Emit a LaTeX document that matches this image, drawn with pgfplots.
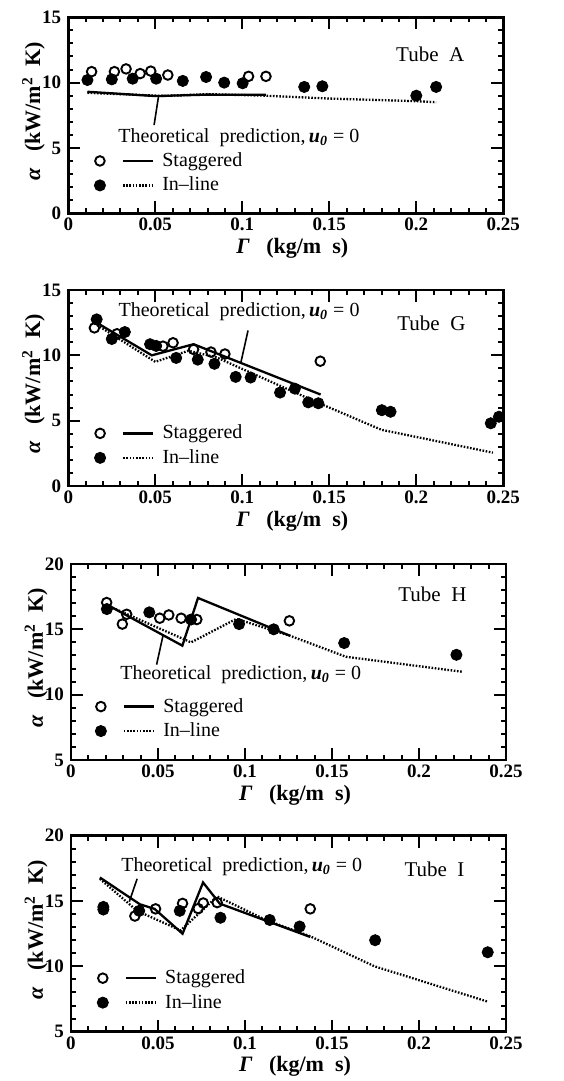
\documentclass[border=0pt]{standalone}
\usepackage{fontspec}
\setmainfont{Liberation Serif}
\usepackage{pgfplots}
\pgfplotsset{compat=1.18}

\pgfplotsset{
  tubepanel/.style={
    scale only axis,
    width=217.5pt, height=98pt,
    xmin=0, xmax=0.25,
    xtick={0,0.05,0.1,0.15,0.2,0.25},
    xticklabels={0,0.05,0.1,0.15,0.2,0.25},
    minor x tick num=4, minor y tick num=4,
    tick align=inside,
    major tick length=6pt, minor tick length=2.6pt,
    axis line style={line width=1.4pt},
    every tick/.style={black, line width=1pt},
    tick label style={font=\fontsize{9.5}{11}\selectfont\bfseries},
    xticklabel style={yshift=1pt},
    xlabel={\textbf{\textit{Γ}}\ \ \ \textbf{(kg/m\ \ s)}},
    ylabel={\textbf{\textit{α}}\ \ \ \textbf{(kW/m\textsuperscript{2}\ \ K)}},
    label style={font=\fontsize{11}{13}\selectfont},
    x label style={at={(axis description cs:0.515,-0.178)}, anchor=center},
    y label style={at={(axis description cs:-0.08,0.52)}, anchor=center},
    legend cell align=left,
    legend style={draw=none, fill=none, inner sep=0pt, anchor=west,
      font=\fontsize{10}{12}\selectfont, row sep=1.8pt,
      nodes={inner sep=1pt}},
    clip=false,
  },
  stag/.style={only marks, mark=o, mark size=2.4pt,
    mark options={line width=0.95pt, fill=white, draw=black}},
  inl/.style={only marks, mark=*, mark size=2.8pt,
    mark options={fill=black, draw=black}},
  solidth/.style={no marks, black, line width=1.15pt},
  dotth/.style={no marks, black, line width=1.15pt, dash pattern=on 0.8pt off 0.8pt},
  stagkey/.style={legend image code/.code={
      \draw[line width=1.15pt] (11.5pt,0pt) -- (26.5pt,0pt);
      \draw[line width=0.95pt, fill=white] (0pt,0pt) circle (2.4pt);
      \path (30pt,0pt);}},
  inlkey/.style={legend image code/.code={
      \draw[line width=1.15pt, dash pattern=on 0.8pt off 0.8pt] (11.5pt,0pt) -- (26.5pt,0pt);
      \fill (0pt,0pt) circle (2.8pt);
      \path (30pt,0pt);}},
}
\tikzset{
  theorynote/.style={anchor=west, inner sep=0pt, font=\fontsize{10}{12}\selectfont},
  tubename/.style={font=\fontsize{10.5}{12}\selectfont},
}

\newcommand{\theorytext}{Theoretical\ \ prediction,\,\textbf{\textit{u}\textsubscript{\textit{0}}}\ =\ 0}

\begin{document}
\begin{tikzpicture}
\useasboundingbox (0,0) rectangle (281.5pt,540.5pt);

% ---------------- Tube A ----------------
\begin{axis}[tubepanel, at={(34.15pt,433.85pt)}, anchor=south west,
  ymin=0, ymax=15, ytick={0,5,10,15}, yticklabels={0,5,10,15},
  legend style={at={(axis cs:0.0145,3.07)}}]
\addlegendimage{stagkey}\addlegendentry{Staggered}
\addlegendimage{inlkey}\addlegendentry{In--line}
\addplot[solidth] coordinates {(0.011,9.3) (0.050,8.97) (0.080,9.08) (0.1136,9.07)};
\addplot[dotth] coordinates {(0.011,9.22) (0.055,8.98) (0.080,9.12) (0.113,9.0) (0.150,8.78) (0.200,8.58) (0.2114,8.5)};
\addplot[inl] coordinates {(0.011,10.2) (0.025,10.25) (0.037,10.3) (0.0505,10.3) (0.0658,10.13) (0.0792,10.43) (0.0896,10.0) (0.1002,9.95) (0.1356,9.67) (0.1460,9.72) (0.2000,9.0) (0.2114,9.67)};
\addplot[stag] coordinates {(0.0134,10.84) (0.0265,10.84) (0.0332,11.05) (0.0413,10.69) (0.0474,10.88) (0.0572,10.58) (0.1036,10.48) (0.1136,10.48)};
\draw[line width=0.8pt] (axis cs:0.0518,8.9) -- (axis cs:0.0493,6.75);
\node[theorynote] at (axis cs:0.0286,5.82) {\theorytext};
\node[tubename] at (axis cs:0.208,12.2) {Tube\ \ A};
\end{axis}

% ---------------- Tube G ----------------
\begin{axis}[tubepanel, at={(34.15pt,297.5pt)}, anchor=south west,
  ymin=0, ymax=15, ytick={0,5,10,15}, yticklabels={0,5,10,15},
  legend style={at={(axis cs:0.0146,3.09)}}]
\addlegendimage{stagkey}\addlegendentry{Staggered}
\addlegendimage{inlkey}\addlegendentry{In--line}
\addplot[solidth] coordinates {(0.015,12.6) (0.048,10.0) (0.072,10.85) (0.145,7.0)};
\addplot[dotth] coordinates {(0.015,12.45) (0.050,9.5) (0.069,10.35) (0.085,9.85) (0.143,6.4) (0.180,4.3) (0.244,2.55)};
\addplot[inl] coordinates {(0.0163,12.75) (0.025,11.25) (0.0325,11.78) (0.047,10.85) (0.0505,10.72) (0.062,9.8) (0.0744,9.67) (0.084,9.35) (0.0962,8.35) (0.1048,8.3) (0.1217,7.15) (0.1302,7.45) (0.1379,6.4) (0.1437,6.33) (0.1802,5.8) (0.1852,5.68) (0.2428,4.8) (0.2475,5.3)};
\addplot[stag] coordinates {(0.015,12.1) (0.028,11.65) (0.0544,10.7) (0.0602,10.96) (0.072,10.45) (0.082,10.25) (0.090,10.1) (0.1448,9.55)};
\draw[line width=0.8pt] (axis cs:0.1033,11.9) -- (axis cs:0.0991,9.4);
\node[theorynote] at (axis cs:0.0287,13.35) {\theorytext};
\node[tubename] at (axis cs:0.2087,12.43) {Tube\ \ G};
\end{axis}

% ---------------- Tube H ----------------
\begin{axis}[tubepanel, at={(35.5pt,160.5pt)}, anchor=south west,
  ymin=5, ymax=20, ytick={5,10,15,20}, yticklabels={5,10,15,20},
  legend style={at={(axis cs:0.0135,8.15)}}]
\addlegendimage{stagkey}\addlegendentry{Staggered}
\addlegendimage{inlkey}\addlegendentry{In--line}
\addplot[solidth] coordinates {(0.0205,16.9) (0.064,13.75) (0.073,17.4) (0.126,14.5)};
\addplot[dotth] coordinates {(0.0205,16.85) (0.069,14.0) (0.095,15.8) (0.126,14.5) (0.158,12.9) (0.225,11.75)};
\addplot[inl] coordinates {(0.0206,16.55) (0.045,16.3) (0.069,15.75) (0.0966,15.4) (0.1165,15.0) (0.157,13.95) (0.2215,13.05)};
\addplot[stag] coordinates {(0.0205,17.05) (0.0295,15.4) (0.032,16.15) (0.051,15.85) (0.0562,16.1) (0.0633,15.85) (0.0723,15.75) (0.1255,15.65)};
\draw[line width=0.8pt] (axis cs:0.053,14.6) -- (axis cs:0.0492,12.3);
\node[theorynote] at (axis cs:0.0281,11.54) {\theorytext};
\node[tubename] at (axis cs:0.2077,17.7) {Tube\ \ H};
\end{axis}

% ---------------- Tube I ----------------
\begin{axis}[tubepanel, at={(35.5pt,24.65pt)}, anchor=south west,
  ymin=5, ymax=20, ytick={5,10,15,20}, yticklabels={5,10,15,20},
  legend style={at={(axis cs:0.0146,8.16)}}]
\addlegendimage{stagkey}\addlegendentry{Staggered}
\addlegendimage{inlkey}\addlegendentry{In--line}
\addplot[solidth] coordinates {(0.0166,16.8) (0.0396,14.75) (0.048,14.4) (0.0641,12.5) (0.0759,16.42) (0.0855,14.8) (0.1375,12.25)};
\addplot[dotth] coordinates {(0.0166,16.7) (0.038,14.25) (0.063,12.75) (0.084,15.35) (0.112,13.55) (0.1375,12.3) (0.1745,10.0) (0.2395,7.3)};
\addplot[inl] coordinates {(0.0186,14.35) (0.0186,14.55) (0.0392,14.25) (0.0625,14.25) (0.0859,13.72) (0.1142,13.55) (0.1314,13.05) (0.1748,12.0) (0.2395,11.08)};
\addplot[stag] coordinates {(0.0367,13.85) (0.0486,14.4) (0.0641,14.82) (0.0731,14.42) (0.0760,14.85) (0.0840,14.88) (0.1375,14.4)};
\draw[line width=0.8pt] (axis cs:0.038,16.7) -- (axis cs:0.0335,14.95);
\node[theorynote] at (axis cs:0.0287,17.6) {\theorytext};
\node[tubename] at (axis cs:0.2089,17.4) {Tube\ \ I};
\end{axis}
\end{tikzpicture}
\end{document}
